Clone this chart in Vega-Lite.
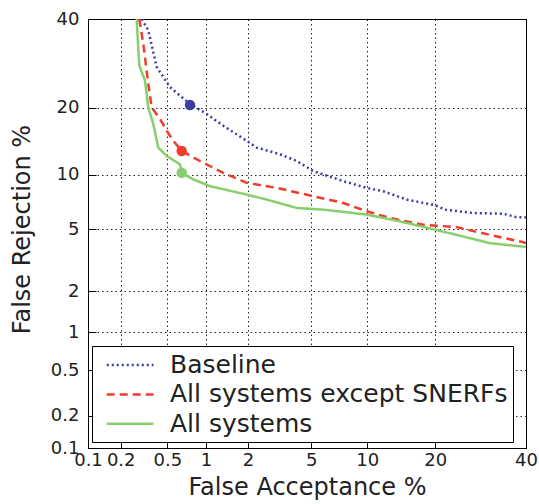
{
  "$schema": "https://vega.github.io/schema/vega-lite/v6.json",
  "width": 438,
  "height": 429,
  "autosize": "none",
  "padding": {"left": 88, "top": 19, "right": 13, "bottom": 56},
  "background": "white",
  "config": {
    "view": {"stroke": "black", "strokeWidth": 1},
    "font": "DejaVu Sans",
    "axis": {
      "domainColor": "black",
      "tickColor": "black",
      "gridColor": "black",
      "gridDash": [1.5, 3],
      "gridOpacity": 0.85,
      "gridWidth": 1,
      "labelFont": "DejaVu Sans",
      "labelFontSize": 18,
      "labelColor": "#222",
      "titleFont": "DejaVu Sans",
      "titleFontSize": 24,
      "titleFontWeight": "normal",
      "titleColor": "#222",
      "labelOverlap": false,
      "labelBound": false,
      "labelFlush": false
    }
  },
  "datasets": {
    "curves": [
      {"series": "Baseline", "fa": 0.306, "fr": 40},
      {"series": "Baseline", "fa": 0.350, "fr": 37.2},
      {"series": "Baseline", "fa": 0.409, "fr": 28.45},
      {"series": "Baseline", "fa": 0.528, "fr": 24.11},
      {"series": "Baseline", "fa": 0.7635, "fr": 20.8},
      {"series": "Baseline", "fa": 1.016, "fr": 18.98},
      {"series": "Baseline", "fa": 1.36, "fr": 16.98},
      {"series": "Baseline", "fa": 1.963, "fr": 14.54},
      {"series": "Baseline", "fa": 2.325, "fr": 13.63},
      {"series": "Baseline", "fa": 3.263, "fr": 12.73},
      {"series": "Baseline", "fa": 4.116, "fr": 11.82},
      {"series": "Baseline", "fa": 5.165, "fr": 10.46},
      {"series": "Baseline", "fa": 7.605, "fr": 9.32},
      {"series": "Baseline", "fa": 9.95, "fr": 8.63},
      {"series": "Baseline", "fa": 12.12, "fr": 8.29},
      {"series": "Baseline", "fa": 15.27, "fr": 7.44},
      {"series": "Baseline", "fa": 20.0, "fr": 6.89},
      {"series": "Baseline", "fa": 21.9, "fr": 6.55},
      {"series": "Baseline", "fa": 27.66, "fr": 6.28},
      {"series": "Baseline", "fa": 34.46, "fr": 6.23},
      {"series": "Baseline", "fa": 37.5, "fr": 5.97},
      {"series": "Baseline", "fa": 40, "fr": 5.94},
      {"series": "All systems except SNERFs", "fa": 0.292, "fr": 40},
      {"series": "All systems except SNERFs", "fa": 0.316, "fr": 33.93},
      {"series": "All systems except SNERFs", "fa": 0.350, "fr": 24.79},
      {"series": "All systems except SNERFs", "fa": 0.373, "fr": 20.13},
      {"series": "All systems except SNERFs", "fa": 0.437, "fr": 18.13},
      {"series": "All systems except SNERFs", "fa": 0.494, "fr": 16.13},
      {"series": "All systems except SNERFs", "fa": 0.564, "fr": 14.54},
      {"series": "All systems except SNERFs", "fa": 0.656, "fr": 13.18},
      {"series": "All systems except SNERFs", "fa": 0.912, "fr": 11.82},
      {"series": "All systems except SNERFs", "fa": 1.36, "fr": 10.23},
      {"series": "All systems except SNERFs", "fa": 1.963, "fr": 9.15},
      {"series": "All systems except SNERFs", "fa": 3.10, "fr": 8.63},
      {"series": "All systems except SNERFs", "fa": 5.165, "fr": 7.78},
      {"series": "All systems except SNERFs", "fa": 7.605, "fr": 7.09},
      {"series": "All systems except SNERFs", "fa": 9.95, "fr": 6.42},
      {"series": "All systems except SNERFs", "fa": 13.01, "fr": 5.89},
      {"series": "All systems except SNERFs", "fa": 18.03, "fr": 5.37},
      {"series": "All systems except SNERFs", "fa": 24.17, "fr": 5.18},
      {"series": "All systems except SNERFs", "fa": 31.36, "fr": 4.66},
      {"series": "All systems except SNERFs", "fa": 39.34, "fr": 4.2},
      {"series": "All systems except SNERFs", "fa": 40, "fr": 4.15},
      {"series": "All systems", "fa": 0.279, "fr": 40},
      {"series": "All systems", "fa": 0.292, "fr": 28.83},
      {"series": "All systems", "fa": 0.328, "fr": 25.45},
      {"series": "All systems", "fa": 0.350, "fr": 20.13},
      {"series": "All systems", "fa": 0.384, "fr": 17.27},
      {"series": "All systems", "fa": 0.4226, "fr": 13.63},
      {"series": "All systems", "fa": 0.494, "fr": 12.5},
      {"series": "All systems", "fa": 0.6375, "fr": 11.37},
      {"series": "All systems", "fa": 0.656, "fr": 10.23},
      {"series": "All systems", "fa": 0.8125, "fr": 9.5},
      {"series": "All systems", "fa": 1.084, "fr": 8.81},
      {"series": "All systems", "fa": 1.963, "fr": 7.95},
      {"series": "All systems", "fa": 2.70, "fr": 7.44},
      {"series": "All systems", "fa": 4.116, "fr": 6.68},
      {"series": "All systems", "fa": 5.93, "fr": 6.55},
      {"series": "All systems", "fa": 9.95, "fr": 6.16},
      {"series": "All systems", "fa": 14.33, "fr": 5.63},
      {"series": "All systems", "fa": 20.0, "fr": 4.98},
      {"series": "All systems", "fa": 24.17, "fr": 4.66},
      {"series": "All systems", "fa": 31.36, "fr": 4.14},
      {"series": "All systems", "fa": 39.34, "fr": 3.94},
      {"series": "All systems", "fa": 40, "fr": 3.92}
    ],
    "markers": [
      {"series": "Baseline", "fa": 0.7635, "fr": 20.6},
      {"series": "All systems except SNERFs", "fa": 0.656, "fr": 13.18},
      {"series": "All systems", "fa": 0.656, "fr": 10.23}
    ]
  },
  "encoding": {
    "x": {
      "field": "fa", "type": "quantitative", "title": "False Acceptance %",
      "scale": {
        "type": "linear", "nice": false, "zero": false,
        "domain": [0.1, 0.15, 0.2, 0.3, 0.4, 0.5, 0.7, 1, 1.5, 2, 3, 4, 5, 7, 10, 15, 20, 25, 30, 35, 40],
        "range": [0, 18.91, 32.73, 52.87, 67.64, 79.42, 97.72, 117.94, 142.06, 160.03, 186.72, 206.81, 223.15, 249.25, 279.24, 317.09, 347.17, 372.97, 396.14, 417.62, 438]
      },
      "axis": {"values": [0.1, 0.2, 0.5, 1, 2, 5, 10, 20, 40], "format": "~g", "tickSize": -8, "labelPadding": 11, "titlePadding": 6}
    },
    "y": {
      "field": "fr", "type": "quantitative", "title": "False Rejection %",
      "scale": {
        "type": "linear", "nice": false, "zero": false,
        "domain": [0.1, 0.15, 0.2, 0.3, 0.4, 0.5, 0.7, 1, 1.5, 2, 3, 4, 5, 7, 10, 15, 20, 25, 30, 35, 40],
        "range": [429, 410.48, 396.94, 377.22, 362.75, 351.21, 333.29, 313.48, 289.86, 272.26, 246.11, 226.44, 210.44, 184.87, 155.5, 118.42, 88.96, 63.69, 41.0, 19.96, 0]
      },
      "axis": {"values": [0.1, 0.2, 0.5, 1, 2, 5, 10, 20, 40], "format": "~g", "tickSize": -8, "labelPadding": 17, "titlePadding": 16, "titleY": 210}
    }
  },
  "layer": [
    {
      "data": {"name": "curves"},
      "mark": {"type": "line", "strokeWidth": 2.5, "clip": true},
      "encoding": {
        "color": {
          "field": "series", "type": "nominal",
          "scale": {"domain": ["Baseline", "All systems except SNERFs", "All systems"], "range": ["#3b3ba3", "#f23b2b", "#86cf6c"]},
          "legend": {
            "title": null, "orient": "none", "legendX": 4, "legendY": 327,
            "symbolType": "M-0.34,0H3.4", "symbolSize": 625, "symbolStrokeWidth": 2.5,
            "labelFontSize": 25, "labelFont": "DejaVu Sans", "labelColor": "#222", "labelLimit": 500,
            "fillColor": "white", "strokeColor": "black", "padding": 5, "rowPadding": 2.4, "labelOffset": 45
          }
        },
        "strokeDash": {
          "field": "series", "type": "nominal",
          "scale": {"domain": ["Baseline", "All systems except SNERFs", "All systems"], "range": [[2, 3], [8, 5], [1, 0]]},
          "legend": {
            "title": null, "orient": "none", "legendX": 4, "legendY": 327,
            "symbolType": "M-0.34,0H3.4", "symbolSize": 625, "symbolStrokeWidth": 2.5,
            "labelFontSize": 25, "labelFont": "DejaVu Sans", "labelColor": "#222", "labelLimit": 500,
            "fillColor": "white", "strokeColor": "black", "padding": 5, "rowPadding": 2.4, "labelOffset": 45
          }
        }
      }
    },
    {
      "data": {"name": "markers"},
      "mark": {"type": "point", "filled": true, "size": 110, "opacity": 1},
      "encoding": {
        "color": {"field": "series", "type": "nominal", "legend": null}
      }
    }
  ]
}
